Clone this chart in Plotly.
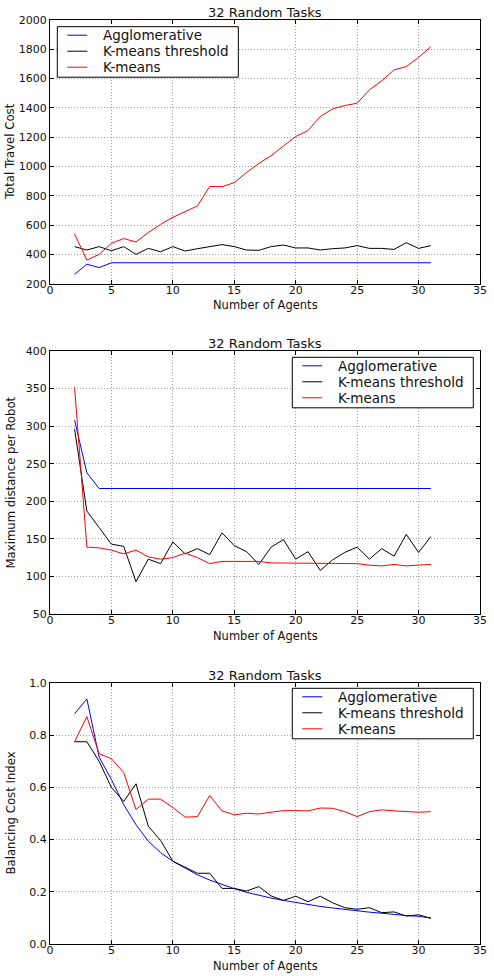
import plotly.graph_objects as go

agents = [2, 3, 4, 5, 6, 7, 8, 9, 10, 11, 12, 13, 14, 15, 16, 17, 18, 19, 20, 21, 22, 23, 24, 25, 26, 27, 28, 29, 30, 31]

series_names = ["Agglomerative", "K-means threshold", "K-means"]
series_colors = ["#0000ff", "#000000", "#ff0000"]

# Total travel cost
tc_agg = [264, 333, 310, 343, 343, 343, 343, 343, 343, 343, 343, 343, 343, 343, 343,
          343, 343, 343, 343, 343, 343, 343, 343, 343, 343, 343, 343, 343, 343, 343]
tc_thr = [453, 430, 453, 425, 453, 400, 441, 418, 453, 423, 439, 453, 467, 453, 430,
          428, 453, 464, 444, 444, 430, 439, 444, 460, 441, 441, 434, 480, 441, 460]
tc_km = [540, 361, 400, 476, 508, 485, 549, 605, 653, 694, 731, 864, 862, 890, 959,
         1021, 1074, 1140, 1205, 1245, 1341, 1393, 1416, 1432, 1523, 1584, 1659, 1682, 1745, 1818]

# Maximum distance per robot
md_agg = [308, 238, 217, 217, 217, 217, 217, 217, 217, 217, 217, 217, 217, 217, 217,
          217, 217, 217, 217, 217, 217, 217, 217, 217, 217, 217, 217, 217, 217, 217]
md_thr = [296, 187, 165, 143, 140, 93, 123, 117, 146, 130, 137, 129, 158, 141, 133,
          116, 139, 149, 123, 133, 108, 122, 132, 139, 123, 137, 127, 156, 132, 153]
md_km = [352, 139, 138, 135, 130, 135, 126, 123, 125, 131, 125, 117, 120, 120, 120,
         120, 118, 118, 118, 117, 117, 117, 117, 117, 115, 114, 116, 114, 115, 116]

# Balancing cost index
bc_agg = [0.882, 0.939, 0.716, 0.63, 0.534, 0.457, 0.394, 0.35, 0.317, 0.29, 0.265, 0.245,
          0.228, 0.212, 0.198, 0.186, 0.176, 0.167, 0.159, 0.151, 0.144, 0.138, 0.132,
          0.127, 0.122, 0.118, 0.113, 0.109, 0.106, 0.100]
bc_thr = [0.775, 0.775, 0.70, 0.60, 0.546, 0.614, 0.451, 0.397, 0.317, 0.295, 0.271, 0.271,
          0.213, 0.213, 0.203, 0.22, 0.184, 0.167, 0.183, 0.162, 0.183, 0.158, 0.139,
          0.133, 0.139, 0.12, 0.123, 0.107, 0.112, 0.098]
bc_km = [0.775, 0.871, 0.729, 0.71, 0.657, 0.515, 0.555, 0.555, 0.523, 0.486, 0.488, 0.569,
         0.51, 0.495, 0.501, 0.498, 0.505, 0.511, 0.511, 0.51, 0.521, 0.52, 0.507,
         0.488, 0.507, 0.514, 0.51, 0.507, 0.505, 0.507]

panel_title = "32 Random Tasks"
x_label = "Number of Agents"
y_labels = ["Total Travel Cost", "Maximum distance per Robot", "Balancing Cost Index"]
y_ranges = [[200, 2000], [50, 400], [0, 1]]
y_dticks = [200, 50, 0.2]
y_formats = ["d", "d", ".1f"]

panels = [[tc_agg, tc_thr, tc_km], [md_agg, md_thr, md_km], [bc_agg, bc_thr, bc_km]]

W, H = 494, 976
px_left, px_right = 50, 480
panel_px = [(20, 283.7), (351, 614), (683, 944)]
legend_box = [(57.3, 26.7), (292.3, 357.3), (292.3, 688.3)]  # left, top in px
LEG_W, LEG_ROW, LEG_PADTOP, LEG_PADBOT = 181, 16, 8.5, 10

FONT = "DejaVu Sans, Verdana, sans-serif"
COND = "Liberation Sans Narrow, DejaVu Sans Condensed, sans-serif"
TXT = "#111"


def px(xp, yp):
    return xp / W, 1 - yp / H


fig = go.Figure()
annotations = []
shapes = []
layout = dict(
    width=W, height=H,
    margin=dict(l=0, r=0, t=0, b=0),
    paper_bgcolor="white", plot_bgcolor="white",
    font=dict(family=FONT, size=11, color=TXT),
    showlegend=False,
)

for i in range(3):
    n = i + 1
    xa = "x" if n == 1 else f"x{n}"
    ya = "y" if n == 1 else f"y{n}"
    for s in range(3):
        fig.add_trace(go.Scatter(
            x=agents, y=panels[i][s], mode="lines", name=series_names[s],
            line=dict(color=series_colors[s], width=1),
            xaxis=xa, yaxis=ya,
        ))
    top, bot = panel_px[i]
    axis_common = dict(
        showline=True, linecolor="#000", linewidth=1, mirror="ticks",
        ticks="inside", ticklen=4, tickcolor="#000",
        showgrid=True, gridcolor="#a0a0a0", gridwidth=1, griddash="1px,2px",
        zeroline=False, tickfont=dict(family=FONT, size=11, color=TXT),
        automargin=False,
    )
    layout["xaxis" if n == 1 else f"xaxis{n}"] = dict(
        axis_common, domain=[px_left / W, px_right / W], range=[0, 35],
        dtick=5, tick0=0, anchor=ya, ticklabelstandoff=-4,
    )
    layout["yaxis" if n == 1 else f"yaxis{n}"] = dict(
        axis_common, domain=[1 - bot / H, 1 - top / H], range=y_ranges[i],
        dtick=y_dticks[i], tick0=0, tickformat=y_formats[i], anchor=xa,
    )
    cx = (px_left + px_right) / 2
    annotations.append(dict(
        text=panel_title, x=cx / W, y=1 - (top - 7.5) / H, xref="paper", yref="paper",
        xanchor="center", yanchor="middle", showarrow=False,
        font=dict(family=FONT, size=13, color=TXT),
    ))
    annotations.append(dict(
        text=x_label, x=cx / W, y=1 - (bot + 21.5) / H, xref="paper", yref="paper",
        xanchor="center", yanchor="middle", showarrow=False,
        font=dict(family=FONT, size=11.5, color=TXT),
    ))
    annotations.append(dict(
        text=y_labels[i], x=10 / W, y=1 - ((top + bot) / 2) / H, xref="paper", yref="paper",
        xanchor="center", yanchor="middle", showarrow=False, textangle=-90,
        font=dict(family=COND, size=13, color=TXT),
    ))
    # legend box (drawn)
    lx, ly = legend_box[i]
    lb = ly + LEG_PADTOP + LEG_ROW * (len(series_names) - 1) + LEG_PADBOT
    x0, y0 = px(lx, lb)
    x1, y1 = px(lx + LEG_W, ly)
    shapes.append(dict(type="rect", xref="paper", yref="paper", x0=x0, x1=x1, y0=y0, y1=y1,
                       line=dict(color="#000", width=1), fillcolor="white", layer="above"))
    for s, name in enumerate(series_names):
        ry = ly + LEG_PADTOP + LEG_ROW * s
        sx0, sy = px(lx + 10, ry)
        sx1, _ = px(lx + 30, ry)
        shapes.append(dict(type="line", xref="paper", yref="paper", x0=sx0, x1=sx1, y0=sy, y1=sy,
                           line=dict(color=series_colors[s], width=1), layer="above"))
        tx, ty = px(lx + 44, ry)
        annotations.append(dict(
            text=name, x=tx, y=ty, xref="paper", yref="paper",
            xanchor="left", yanchor="middle", showarrow=False,
            font=dict(family=FONT, size=13.5, color=TXT),
        ))

layout["annotations"] = annotations
layout["shapes"] = shapes
fig.update_layout(**layout)
fig.write_html("out.html")
